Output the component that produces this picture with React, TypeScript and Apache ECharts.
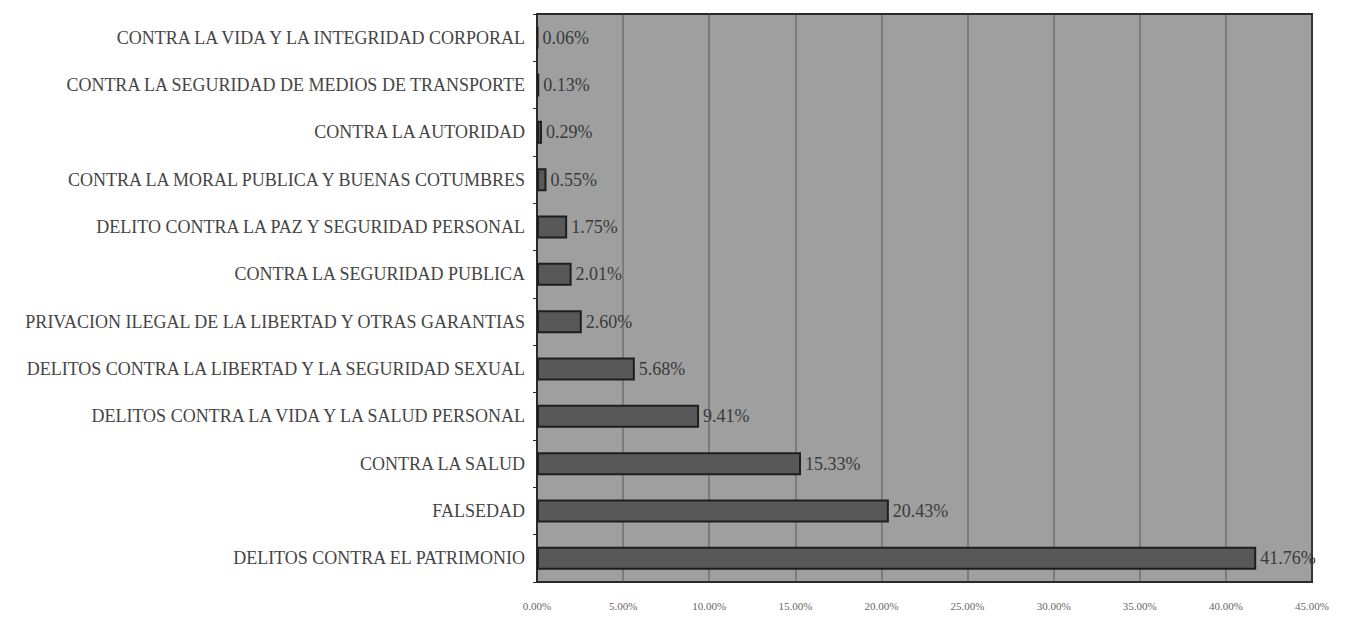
import React, { useEffect, useRef } from "react";
import * as echarts from "echarts";

const categories: string[] = [
  "CONTRA LA VIDA Y LA INTEGRIDAD CORPORAL",
  "CONTRA LA SEGURIDAD DE MEDIOS DE TRANSPORTE",
  "CONTRA LA AUTORIDAD",
  "CONTRA LA MORAL PUBLICA Y BUENAS COTUMBRES",
  "DELITO CONTRA LA PAZ Y SEGURIDAD PERSONAL",
  "CONTRA LA SEGURIDAD PUBLICA",
  "PRIVACION ILEGAL DE LA LIBERTAD Y OTRAS GARANTIAS",
  "DELITOS CONTRA LA LIBERTAD Y LA SEGURIDAD SEXUAL",
  "DELITOS CONTRA LA VIDA Y LA SALUD PERSONAL",
  "CONTRA LA SALUD",
  "FALSEDAD",
  "DELITOS CONTRA EL PATRIMONIO",
];

const percentages: number[] = [0.06, 0.13, 0.29, 0.55, 1.75, 2.01, 2.6, 5.68, 9.41, 15.33, 20.43, 41.76];

const xTicks: number[] = [0, 5, 10, 15, 20, 25, 30, 35, 40, 45];

export default function App() {
  const ref = useRef<HTMLDivElement>(null);
  useEffect(() => {
    if (!ref.current) return;
    const chart = echarts.init(ref.current, undefined, { renderer: "svg" });
    chart.setOption({
      animation: false,
      backgroundColor: "#ffffff",
      grid: {
        left: 529,
        right: 31,
        top: 6,
        bottom: 34,
        show: true,
        backgroundColor: "#9f9f9f",
        borderColor: "#2a2a2a",
        borderWidth: 2,
      },
      xAxis: {
        type: "value",
        min: xTicks[0],
        max: xTicks[xTicks.length - 1],
        interval: 5,
        axisLine: { show: false },
        axisTick: { show: false },
        splitLine: { show: true, lineStyle: { color: "#4a4a4a", width: 1.5, opacity: 0.55 } },
        axisLabel: {
          formatter: (v: number) => v.toFixed(2) + "%",
          fontFamily: "Liberation Serif",
          fontSize: 11,
          color: "#666666",
          margin: 18,
        },
      },
      yAxis: {
        type: "category",
        data: categories,
        inverse: true,
        axisLine: { show: true, lineStyle: { color: "#2a2a2a", width: 2 } },
        axisTick: { show: true, length: 4, lineStyle: { color: "#2a2a2a" } },
        axisLabel: {
          fontFamily: "Liberation Serif",
          fontSize: 18,
          color: "#444444",
          margin: 12,
        },
      },
      series: [
        {
          type: "bar",
          data: percentages,
          barWidth: 23,
          itemStyle: {
            color: "#585858",
            borderColor: "#1e1e1e",
            borderWidth: 2,
          },
          label: {
            show: true,
            position: "right",
            distance: 4,
            formatter: (p: any) => Number(p.value).toFixed(2) + "%",
            fontFamily: "Liberation Serif",
            fontSize: 18,
            color: "#3a3a3a",
          },
        },
      ],
    });
    return () => chart.dispose();
  }, []);
  return <div ref={ref} style={{ width: 1335, height: 608 }} />;
}
